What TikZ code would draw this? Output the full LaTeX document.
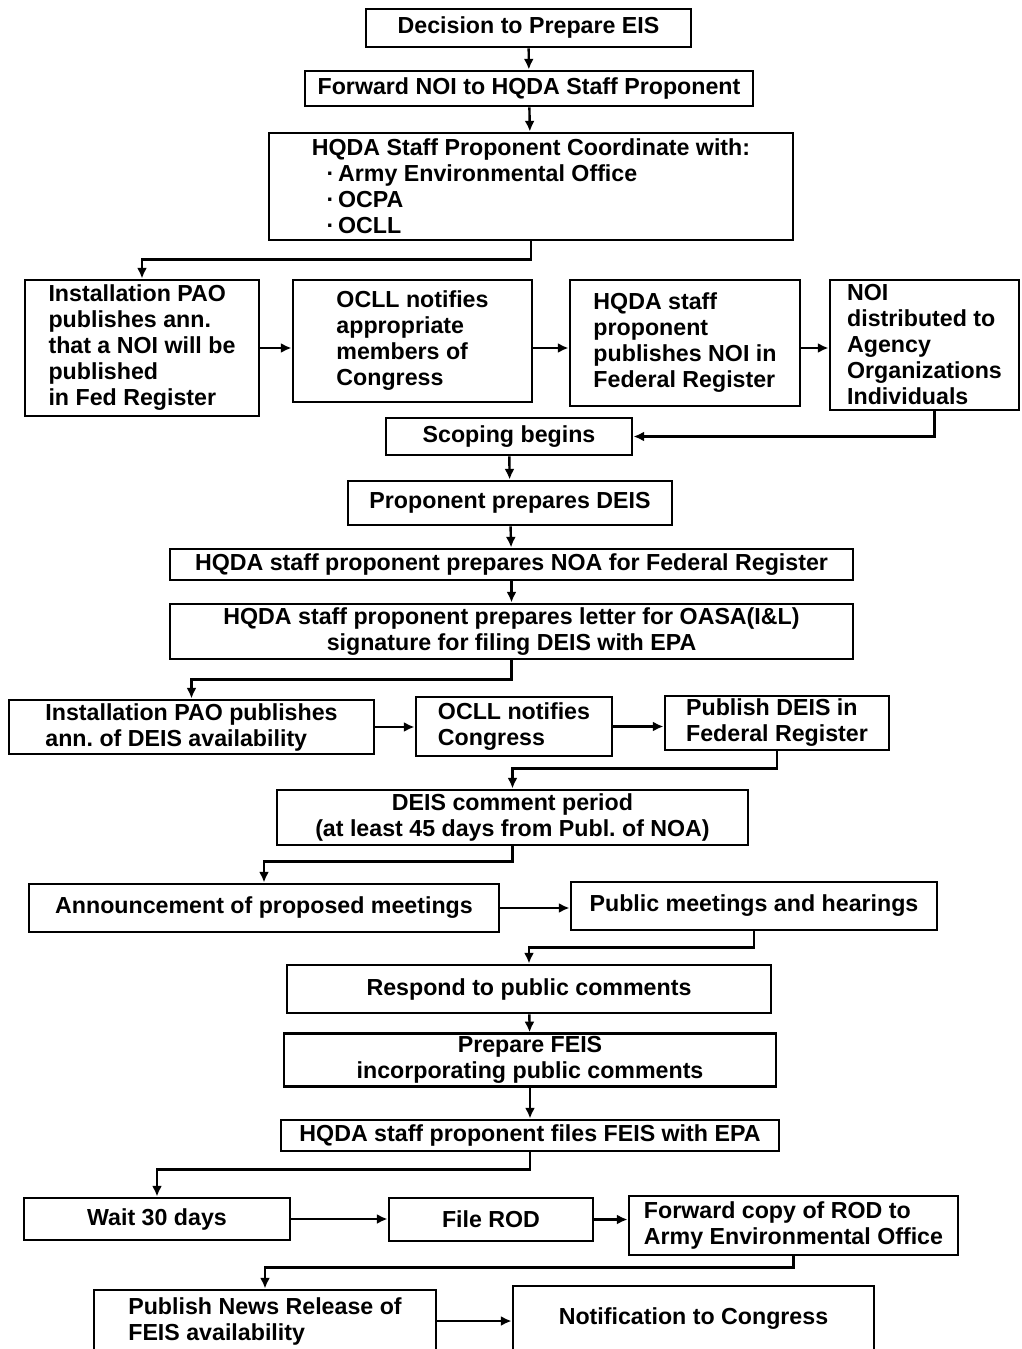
\documentclass[tikz,border=0pt]{standalone}
\usepackage{fontspec}
\setmainfont{Liberation Sans}
\usepackage{xcolor}
\usetikzlibrary{arrows.meta}
\frenchspacing

\tikzset{
  box/.style={draw, line width=2.2pt, inner sep=2pt, align=center,
    font=\bfseries\fontsize{17.4pt}{19.5pt}\selectfont},
  wh/.style 2 args={minimum width=#1*0.75pt, minimum height=#2*0.75pt},
  link/.style={line width=1.8pt, ->, >={Latex[length=8pt,width=7.5pt]}},
}

\begin{document}
\begin{tikzpicture}[x=0.75pt,y=-0.75pt]
  \useasboundingbox (0,0) rectangle (1021,1349);
  % top column
  \node[box,wh={325}{38}] (dec) at (528.5,28) {Decision to Prepare EIS};
  \node[box,wh={448}{35}] (fwd) at (529,88.5) {Forward NOI to HQDA Staff Proponent};
  \node[box,wh={524}{107},align=left] (coord) at (531,186.5)
    {HQDA Staff Proponent Coordinate with:\\
     \hspace{11pt}·\,Army Environmental Office\\
     \hspace{11pt}·\,OCPA\\
     \hspace{11pt}·\,OCLL};
  % NOI row
  \node[box,wh={234}{136},align=left] (pao) at (142,348)
    {Installation PAO\\publishes ann.\\that a NOI will be\\published\\in Fed Register};
  \node[box,wh={239}{122},align=left] (ocll) at (412.5,341)
    {OCLL notifies\\appropriate\\members of\\Congress};
  \node[box,wh={230}{126},align=left] (pub) at (685,343)
    {HQDA staff\\proponent\\publishes NOI in\\Federal Register};
  \node[box,wh={189}{130},align=left] (dist) at (924.5,345)
    {NOI\\distributed to\\Agency\\Organizations\\Individuals};
  \node[box,wh={246}{37}] (scope) at (509,436.5) {Scoping begins};
  \node[box,wh={324}{44}] (deis) at (510,503) {Proponent prepares DEIS};
  \node[box,wh={683}{31}] (noa) at (511.5,564.5) {HQDA staff proponent prepares NOA for Federal Register};
  \node[box,wh={683}{55}] (letter) at (511.5,631.5)
    {HQDA staff proponent prepares letter for OASA(I\&L)\\signature for filing DEIS with EPA};
  % DEIS row
  \node[box,wh={365}{54},align=left] (avail) at (191.5,727)
    {Installation PAO publishes\\ann. of DEIS availability};
  \node[box,wh={196}{59},align=left] (cong) at (514,726.5) {OCLL notifies\\Congress};
  \node[box,wh={224}{54},align=left] (fedreg) at (777,723) {Publish DEIS in\\Federal Register};
  \node[box,wh={471}{55}] (period) at (512.5,817.5)
    {DEIS comment period\\(at least 45 days from Publ. of NOA)};
  \node[box,wh={470}{48}] (ann) at (264,908) {Announcement of proposed meetings};
  \node[box,wh={366}{48}] (meet) at (754,906) {Public meetings and hearings};
  \node[box,wh={484}{48}] (resp) at (529,989) {Respond to public comments};
  \node[box,wh={492}{52}] (feis) at (530,1060) {Prepare FEIS\\incorporating public comments};
  \node[box,wh={498}{31}] (files) at (530,1135.5) {HQDA staff proponent files FEIS with EPA};
  % ROD row
  \node[box,wh={266}{42}] (wait) at (157,1219) {Wait 30 days};
  \node[box,wh={204}{43}] (rod) at (491,1219.5) {File ROD};
  \node[box,wh={329}{59},align=left] (fwdrod) at (793.5,1225.5)
    {Forward copy of ROD to\\Army Environmental Office};
  \node[box,wh={342}{62},align=left] (news) at (265,1321)
    {Publish News Release of\\FEIS availability};
  \node[box,wh={361}{66}] (notif) at (693.5,1319) {Notification to Congress};

  % connectors
  \draw[link] (dec) -- (fwd);
  \draw[link] (fwd) -- (coord);
  \draw[link] (coord.south) -- ++(0,18) -| (pao.north);
  \draw[link] (pao.east) -- (pao.east -| ocll.west);
  \draw[link] (ocll.east |- pao.east) -- (pao.east -| pub.west);
  \draw[link] (pub.east |- pao.east) -- (pao.east -| dist.west);
  \draw[link] ([xshift=7.5pt]dist.south) |- (scope.east);
  \draw[link] (scope) -- (deis);
  \draw[link] (deis) -- (noa);
  \draw[link] (noa) -- (letter);
  \draw[link] (letter.south) -- ++(0,19) -| (avail.north);
  \draw[link] (avail.east) -- (avail.east -| cong.west);
  \draw[link] (cong.east) -- (cong.east -| fedreg.west);
  \draw[link] (fedreg.south) -- ++(0,17) -| (period.north);
  \draw[link] (period.south) -- ++(0,15) -| (ann.north);
  \draw[link] (ann.east) -- (ann.east -| meet.west);
  \draw[link] (meet.south) -- ++(0,16) -| (resp.north);
  \draw[link] (resp) -- (feis);
  \draw[link] (feis) -- (files);
  \draw[link] (files.south) -- ++(0,17) -| (wait.north);
  \draw[link] (wait.east) -- (wait.east -| rod.west);
  \draw[link] (rod.east) -- (rod.east -| fwdrod.west);
  \draw[link] (fwdrod.south) -- ++(0,11) -| (news.north);
  \draw[link] (news.east) -- (news.east -| notif.west);
\end{tikzpicture}
\end{document}
